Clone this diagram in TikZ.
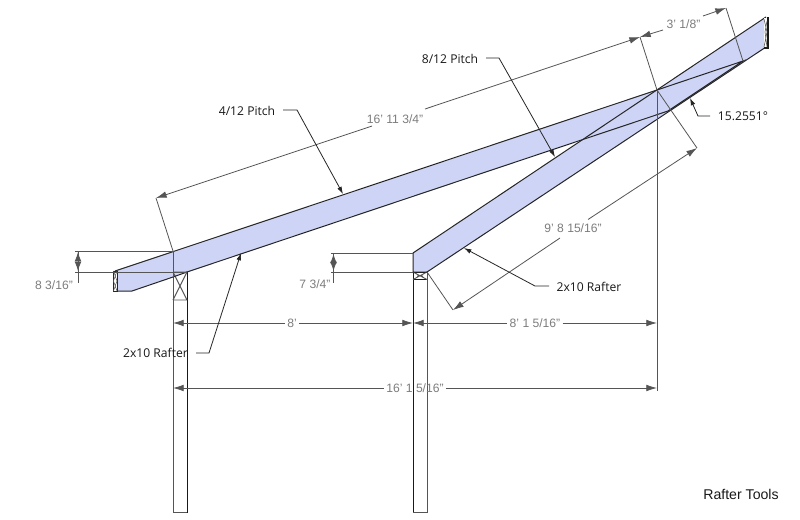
\documentclass[tikz,border=0pt]{standalone}
\usepackage{fontspec}
\setmainfont{Liberation Sans}
\newfontfamily\callfont{Open Sans}
\usetikzlibrary{arrows.meta}
\definecolor{rafterfill}{RGB}{205,212,245}
\definecolor{dimgrey}{RGB}{85,85,85}
\definecolor{dimtext}{RGB}{125,125,125}
\tikzset{
 x=0.75pt,y=-0.75pt,
 edge/.style={draw=black!85,line width=0.75pt},
 postdark/.style={draw=black!90,line width=0.7pt},
 postgrey/.style={draw=dimgrey,line width=0.7pt},
 dimline/.style={draw=dimgrey,line width=0.6pt},
 halfstart/.style={draw=dimgrey,line width=0.6pt,{Latex[length=8pt,width=5pt]}-},
 halfend/.style={draw=dimgrey,line width=0.6pt,-{Latex[length=8pt,width=5pt]}},
 tickarrow/.style={draw=dimgrey,line width=0.6pt,{Latex[length=7pt,width=5pt]}-{Latex[length=7pt,width=5pt]}},
 leader/.style={draw=black!85,line width=0.6pt,-{Latex[length=5.5pt,width=3.5pt]}},
 dimlabel/.style={text=dimtext,font=\fontsize{9.1pt}{10pt}\selectfont,inner sep=1.5pt},
 calllabel/.style={text=black!90,font=\callfont\fontsize{9.1pt}{10pt}\selectfont,inner sep=0pt},
}
\begin{document}
\begin{tikzpicture}
\useasboundingbox (0,0) rectangle (800,519);
\fill[white] (0,0) rectangle (800,519);
% named points
\coordinate (apex) at (657,90);
\coordinate (lowerTip) at (668,111);
\coordinate (upperEnd) at (743,61);
\coordinate (eaveTop) at (115,271);
\coordinate (eaveBot) at (115,291);
\coordinate (heelA) at (173,251);
\coordinate (seatA) at (187,272);
\coordinate (seatB) at (173,277);
\coordinate (tailA) at (132,291);
\coordinate (r2top) at (413,253);
\coordinate (r2seat) at (413,272);
\coordinate (r2low) at (427,272);
\coordinate (r2endT) at (766,17);
\coordinate (r2endB) at (766,47);
% rafter fills
\path[fill=rafterfill] (eaveTop)--(apex)--(upperEnd)--(lowerTip)--(seatA)--(seatB)--(tailA)--(eaveBot)--cycle;
\path[fill=rafterfill] (r2top)--(r2endT)--(r2endB)--(r2low)--(r2seat)--cycle;
% posts
\draw[postgrey] (173,272)--(173,512.5)--(187,512.5);
\draw[postdark] (187,272)--(187,512.5);
\draw[postgrey] (173,272)--(187,272) (173,300)--(187,300) (173,272)--(187,300) (187,272)--(173,300);
\draw[postdark] (413,272)--(413,512.5);
\draw[postgrey] (413,512.5)--(427,512.5)--(427,272);
\draw[postdark] (413,272)--(427,272) (413,279.5)--(427,279.5);
\draw[postgrey] (413,272)--(427,279.5) (427,272)--(413,279.5) (417,276)--(423,276);
% rafter outlines
\draw[edge] (eaveTop)--(apex)--(upperEnd)--(lowerTip)--(seatA)--(seatB)--(tailA)--(eaveBot);
\draw[edge] (r2low)--(r2seat)--(r2top)--(r2endT) (r2endB)--(r2low);
\draw[dimline] (heelA)--(seatB);
% plumb ends
\fill[white] (113.5,271) rectangle (117,291);
\draw[edge,line width=0.5pt] (113.5,271)--(113.5,291)--(117,291)--(117,271)--cycle;
\draw[dimline,line width=0.4pt] (113.5,271)--(117,281)--(113.5,291) (117,271)--(113.5,281)--(117,291);
\fill[white] (764,18) rectangle (768,47.5);
\draw[postdark,line width=1pt] (768,17)--(768,48)--(764,48);
\draw[dimline,line width=0.45pt] (764,19)--(767,32)--(764,47) (767,21)--(765,32)--(767,47);
% left height dimension
\coordinate (d1a) at (75,251);
\coordinate (d1b) at (75,272);
\draw[dimline] (d1a)--(heelA) (d1b)--(seatA);
\draw[dimline] (78,251)--(78,283);
\draw[tickarrow] (78,252)--(78,271);
\node[dimlabel] (l1) at (54,285) {8 3/16''};
% right height dimension
\coordinate (d2a) at (331,253);
\coordinate (d2b) at (331,272);
\draw[dimline] (d2a)--(r2top) (d2b)--(r2seat);
\draw[dimline] (333.5,253)--(333.5,283);
\draw[tickarrow] (333.5,254)--(333.5,271);
\node[dimlabel] (l2) at (315,284.5) {7 3/4''};
% horizontal dimensions
\coordinate (p1) at (173,323);
\coordinate (p2) at (413,323);
\coordinate (p3) at (657,323);
\coordinate (p4) at (173,388);
\coordinate (p5) at (657,388);
\node[dimlabel] (l3) at (292,323) {8'};
\node[dimlabel] (l4) at (535,323) {8' 1 5/16''};
\node[dimlabel] (l5) at (415,388) {16' 1 5/16''};
\draw[halfstart] (p1)--(l3.west);
\draw[halfend] (l3.east)--(p2);
\draw[halfstart] (p2)--(l4.west);
\draw[halfend] (l4.east)--(p3);
\draw[halfstart] (p4)--(l5.west);
\draw[halfend] (l5.east)--(p5);
\draw[dimline] (apex)--(657,391);
% aligned dimensions
\coordinate (a1) at (156,198);
\coordinate (a2) at (640,37);
\coordinate (a3) at (726,8);
\coordinate (a4) at (453,310);
\coordinate (a5) at (697,148);
\coordinate (g1) at (372,126);
\coordinate (g2) at (425,109);
\coordinate (g3) at (663,30);
\coordinate (g4) at (703,16);
\coordinate (g5) at (560,238);
\coordinate (g6) at (588,219.5);
\draw[dimline] (heelA)--(a1) (apex)--(a2) (upperEnd)--(a3);
\node[dimlabel] (l6) at (395,119) {16' 11 3/4''};
\node[dimlabel] (l7) at (683.5,24) {3' 1/8''};
\node[dimlabel] (l8) at (573,228) {9' 8 15/16''};
\draw[halfstart] (a1)--(g1);
\draw[halfend] (g2)--(a2);
\draw[halfstart] (a2)--(g3);
\draw[halfend] (g4)--(a3);
\draw[dimline] (r2low)--(a4) (apex)--(a5);
\draw[halfstart] (a4)--(g5);
\draw[halfend] (g6)--(a5);
% callouts
\node[calllabel] (c1) at (247,110.5) {4/12 Pitch};
\coordinate (c1s) at (283,110);
\coordinate (c1k) at (297,110);
\coordinate (c1t) at (343,194);
\draw[leader] (c1s)--(c1k)--(c1t);
\node[calllabel] (c2) at (450,58.5) {8/12 Pitch};
\coordinate (c2s) at (486,58);
\coordinate (c2k) at (499,58);
\coordinate (c2t) at (555,157);
\draw[leader] (c2s)--(c2k)--(c2t);
\node[calllabel] (c3) at (743,116.5) {15.2551°};
\coordinate (c3s) at (710,116);
\coordinate (c3k) at (698,116);
\coordinate (c3t) at (690,98);
\draw[leader] (c3s)--(c3k)--(c3t);
\node[calllabel] (c4) at (589,286.5) {2x10 Rafter};
\coordinate (c4s) at (549,286);
\coordinate (c4k) at (535,286);
\coordinate (c4t) at (464,248);
\draw[leader] (c4s)--(c4k)--(c4t);
\node[calllabel] (c5) at (155.5,353) {2x10 Rafter};
\coordinate (c5s) at (196,353);
\coordinate (c5k) at (209,353);
\coordinate (c5t) at (241,253);
\draw[leader] (c5s)--(c5k)--(c5t);
\node[calllabel,font=\fontsize{10.6pt}{12pt}\selectfont] (c6) at (741,494) {Rafter Tools};
\end{tikzpicture}
\end{document}
